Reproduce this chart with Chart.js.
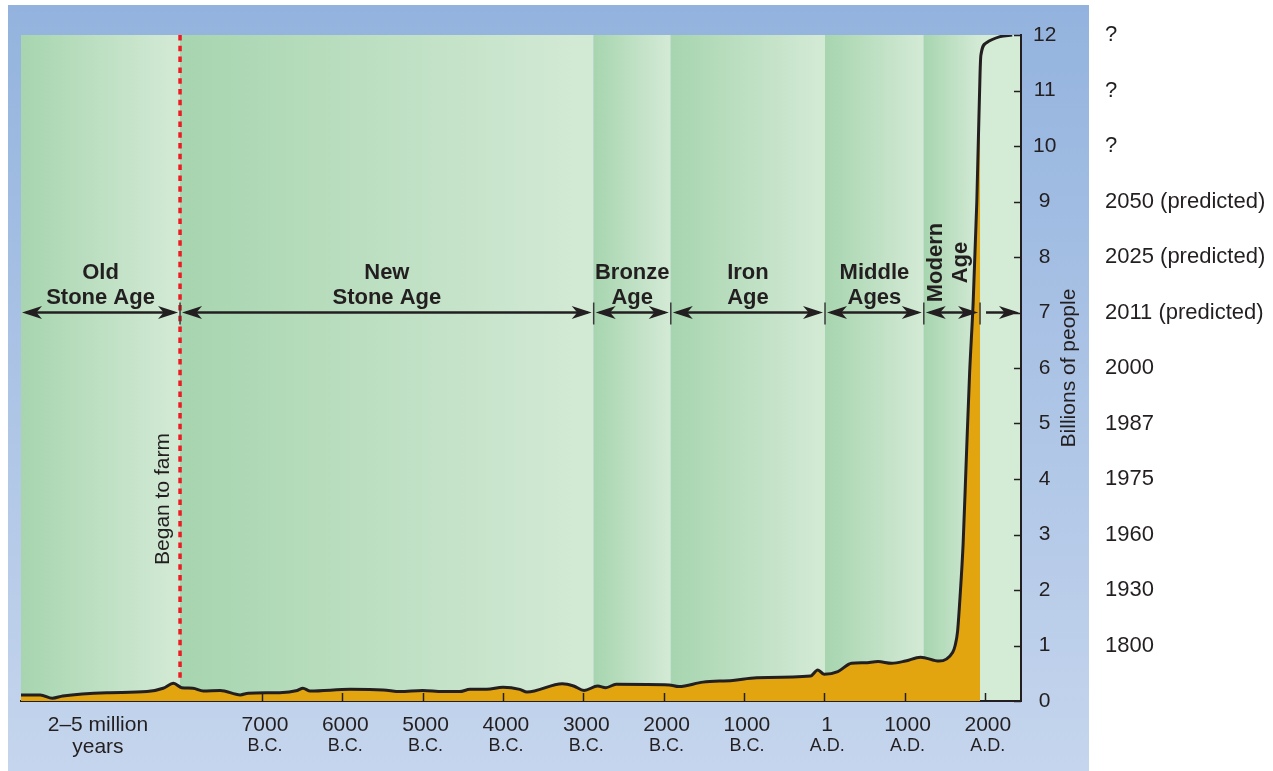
<!DOCTYPE html>
<html>
<head>
<meta charset="utf-8">
<title>World population through the ages</title>
<script src="https://cdn.jsdelivr.net/npm/chart.js@4/dist/chart.umd.min.js"></script>
<style>
  html, body { margin: 0; padding: 0; background: #fff; }
  #wrap { width: 1273px; height: 771px; }
</style>
</head>
<body>
<div id="wrap"><canvas id="popChart" width="1273" height="771"></canvas></div>
<script>
// year (negative = B.C.) and world population in billions
const years = [-10000, -9760, -9610, -9480, -8930, -8430, -8230, -8100, -8000, -7860,
  -7730, -7520, -7270, -7170, -6780, -6560, -6490, -6400, -5900, -5490,
  -5280, -5000, -4750, -4540, -4410, -4200, -4000, -3790, -3700, -3260,
  -3120, -2990, -2820, -2720, -2590, -1930, -1810, -1510, -1140, -840,
  -170, -80, 0, 170, 340, 505, 670, 840, 1010, 1200,
  1430, 1600, 1630, 1660, 1690, 1730, 1770, 1810, 1855, 1900,
  1940, 1950, 2020, 2190, 2340];
const population = [0.11, 0.11, 0.05, 0.09, 0.15, 0.17, 0.23, 0.32, 0.24, 0.23,
  0.18, 0.19, 0.11, 0.14, 0.15, 0.19, 0.23, 0.18, 0.21, 0.20,
  0.17, 0.19, 0.17, 0.17, 0.21, 0.21, 0.25, 0.21, 0.16, 0.31,
  0.27, 0.19, 0.27, 0.24, 0.30, 0.29, 0.26, 0.34, 0.37, 0.42,
  0.45, 0.56, 0.48, 0.53, 0.68, 0.69, 0.71, 0.68, 0.72, 0.79,
  0.72, 0.88, 1.0, 1.25, 1.85, 2.85, 4.4, 5.9, 7.2, 9.0,
  11.3, 11.63, 11.86, 11.97, 12.0];
const fillEndYear = 1940;

const xTickYears = [-9080, -7000, -6000, -5000, -4000, -3000, -2000, -1000, 0, 1000, 2000];
const xTickNumbers = ['2–5 million', '7000', '6000', '5000', '4000', '3000', '2000', '1000', '1', '1000', '2000'];
const xTickEras = ['years', 'B.C.', 'B.C.', 'B.C.', 'B.C.', 'B.C.', 'B.C.', 'B.C.', 'A.D.', 'A.D.', 'A.D.'];

const yTicks = [0, 1, 2, 3, 4, 5, 6, 7, 8, 9, 10, 11, 12];
const yearAtLevel = ['', '1800', '1930', '1960', '1975', '1987', '2000',
  '2011 (predicted)', '2025 (predicted)', '2050 (predicted)', '?', '?', '?'];

const eraNames = [['Old', 'Stone Age'], ['New', 'Stone Age'], ['Bronze', 'Age'],
  ['Iron', 'Age'], ['Middle', 'Ages'], ['Modern', 'Age'], null];
const eraBounds = [-10000, -8020, -2870, -1910, 10, 1240, 1940, 2450];
const farmingYear = -8020;

const ink = '#231f20';
const fontFamily = "'Liberation Sans', Arial, Helvetica, sans-serif";
Chart.defaults.font.family = fontFamily;
Chart.defaults.color = ink;

const backdrop = {
  id: 'backdrop',
  beforeDraw(chart) {
    const { ctx, chartArea: a, scales: { x } } = chart;
    ctx.save();
    const g = ctx.createLinearGradient(0, 5, 0, 771);
    g.addColorStop(0, '#93b3de');
    g.addColorStop(1, '#c5d5ed');
    ctx.fillStyle = g;
    ctx.fillRect(8, 5, 1081, 766);
    for (let i = 0; i < eraBounds.length - 1; i++) {
      const l = x.getPixelForValue(eraBounds[i]);
      const r = x.getPixelForValue(eraBounds[i + 1]);
      if (eraNames[i]) {
        const bg = ctx.createLinearGradient(l, 0, r, 0);
        bg.addColorStop(0, '#a7d5af');
        bg.addColorStop(0.95, '#d2e9d4');
        ctx.fillStyle = bg;
      } else {
        ctx.fillStyle = '#d4ebd6';
      }
      ctx.fillRect(l, a.top, r - l, a.bottom - a.top);
    }
    ctx.restore();
  }
};

function arrowHead(ctx, tipX, yy, dir) {
  const L = 20, h = 6.5;
  ctx.beginPath();
  ctx.moveTo(tipX, yy);
  ctx.lineTo(tipX - dir * L, yy - h);
  ctx.lineTo(tipX - dir * L * 0.72, yy);
  ctx.lineTo(tipX - dir * L, yy + h);
  ctx.closePath();
  ctx.fill();
}

const annotations = {
  id: 'annotations',
  afterDatasetsDraw(chart) {
    const { ctx, chartArea: a, scales: { x, y } } = chart;
    ctx.save();

    // began to farm
    const fx = x.getPixelForValue(farmingYear);
    ctx.strokeStyle = '#ed1c24';
    ctx.lineWidth = 3.5;
    ctx.setLineDash([5.5, 5.3]);
    ctx.beginPath();
    ctx.moveTo(fx, a.top);
    ctx.lineTo(fx, y.getPixelForValue(0.34));
    ctx.stroke();
    ctx.setLineDash([]);

    ctx.fillStyle = ink;
    ctx.font = '21px ' + fontFamily;
    ctx.textAlign = 'center';
    ctx.textBaseline = 'middle';
    ctx.save();
    ctx.translate(fx - 17, 499);
    ctx.rotate(-Math.PI / 2);
    ctx.fillText('Began to farm', 0, 0);
    ctx.restore();

    // era arrows
    const ay = y.getPixelForValue(7);
    ctx.strokeStyle = ink;
    for (let i = 0; i < eraBounds.length - 1; i++) {
      const l = x.getPixelForValue(eraBounds[i]);
      const r = x.getPixelForValue(eraBounds[i + 1]);
      const last = i === eraBounds.length - 2;
      const tl = i === 0 ? l + 1 : l + 2;
      const tr = r - 2;
      ctx.lineWidth = 2.5;
      ctx.beginPath();
      ctx.moveTo(tl + 4, ay);
      ctx.lineTo(tr - 4, ay);
      ctx.stroke();
      if (!last) arrowHead(ctx, tl, ay, -1);
      arrowHead(ctx, tr, ay, 1);
      if (i > 0) {
        ctx.lineWidth = 1.5;
        ctx.strokeStyle = '#3a3a3a';
        ctx.beginPath();
        ctx.moveTo(l, ay - 10);
        ctx.lineTo(l, ay + 12);
        ctx.stroke();
        ctx.strokeStyle = ink;
      }
      const name = eraNames[i];
      if (!name) continue;
      ctx.font = 'bold 22px ' + fontFamily;
      if (name[0] === 'Modern') {
        ctx.save();
        ctx.translate((l + r) / 2 - 3, ay - 50);
        ctx.rotate(-Math.PI / 2);
        ctx.fillText(name[0], 0, -12.5);
        ctx.fillText(name[1], 0, 12.5);
        ctx.restore();
      } else {
        ctx.fillText(name[0], (l + r) / 2, ay - 40);
        ctx.fillText(name[1], (l + r) / 2, ay - 15);
      }
    }

    // inward tick marks
    ctx.strokeStyle = ink;
    ctx.lineWidth = 1.5;
    yTicks.forEach(v => {
      const py = Math.round(y.getPixelForValue(v)) + 0.5;
      ctx.beginPath();
      ctx.moveTo(a.right - 7, py);
      ctx.lineTo(a.right, py);
      ctx.stroke();
    });
    xTickYears.forEach((v, i) => {
      if (i === 0) return;
      const px = Math.round(x.getPixelForValue(v)) + 0.5;
      ctx.beginPath();
      ctx.moveTo(px, a.bottom);
      ctx.lineTo(px, a.bottom - 8);
      ctx.stroke();
    });

    // axis title, reading upwards
    ctx.font = '21px ' + fontFamily;
    ctx.save();
    ctx.translate(a.right + 48, (a.top + a.bottom) / 2);
    ctx.rotate(-Math.PI / 2);
    ctx.fillText('Billions of people', 0, 0);
    ctx.restore();

    ctx.restore();
  }
};

const linePoints = years.map((yr, i) => ({ x: yr, y: population[i] }));
const fillPoints = linePoints.filter(p => p.x <= fillEndYear);

const setXTicks = s => { s.ticks = xTickYears.map(v => ({ value: v })); };
const setYTicks = s => { s.ticks = yTicks.map(v => ({ value: v })); };

const ctx = document.getElementById('popChart').getContext('2d');
const popChart = new Chart(ctx, {
  type: 'line',
  data: {
    datasets: [{
      label: 'Population',
      data: linePoints,
      borderColor: ink,
      borderWidth: 3,
      pointRadius: 0,
      fill: false,
      cubicInterpolationMode: 'monotone',
      order: 1
    }, {
      label: 'Population area',
      data: fillPoints,
      borderWidth: 0,
      borderColor: 'rgba(0,0,0,0)',
      backgroundColor: '#e3a50f',
      pointRadius: 0,
      fill: 'origin',
      cubicInterpolationMode: 'monotone',
      order: 2
    }]
  },
  options: {
    responsive: false,
    animation: false,
    devicePixelRatio: 1,
    layout: { padding: { left: 21, top: 35, right: 0, bottom: 0 } },
    plugins: {
      legend: { display: false },
      tooltip: { enabled: false }
    },
    scales: {
      x: {
        type: 'linear', position: 'bottom', min: -10000, max: 2450, z: 1, weight: 0,
        grid: { display: false, drawTicks: false },
        border: { display: true, color: ink, width: 2 },
        afterBuildTicks: setXTicks,
        afterFit: s => { s.height = 34; },
        ticks: {
          autoSkip: false, maxRotation: 0, padding: 12, labelOffset: 3,
          font: { size: 21 }, color: ink,
          callback: (v, i) => xTickNumbers[i]
        }
      },
      x2: {
        type: 'linear', position: 'bottom', min: -10000, max: 2450, weight: 1,
        grid: { display: false, drawTicks: false },
        border: { display: false },
        afterBuildTicks: setXTicks,
        afterFit: s => { s.height = 36; },
        ticks: {
          autoSkip: false, maxRotation: 0, padding: 0, labelOffset: 3,
          font: c => ({ size: c.index === 0 ? 21 : 18 }), color: ink,
          callback: (v, i) => xTickEras[i]
        }
      },
      y: {
        type: 'linear', position: 'right', min: 0, max: 12, z: 1, weight: 0,
        grid: { display: false, drawTicks: false },
        border: { display: true, color: ink, width: 2 },
        afterBuildTicks: setYTicks,
        afterFit: s => { s.width = 80; },
        ticks: { padding: 12, crossAlign: 'center', font: { size: 21 }, color: ink }
      },
      y2: {
        type: 'linear', position: 'right', min: 0, max: 12, weight: 1,
        grid: { display: false, drawTicks: false },
        border: { display: false },
        afterBuildTicks: setYTicks,
        afterFit: s => { s.width = 172; },
        ticks: { padding: 4, font: { size: 22 }, color: ink, callback: v => yearAtLevel[v] }
      }
    }
  },
  plugins: [backdrop, annotations]
});
</script>
</body>
</html>
